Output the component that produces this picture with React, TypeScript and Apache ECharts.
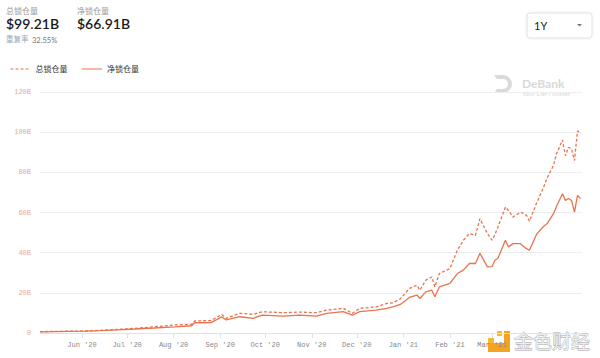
import React, { useEffect, useRef } from "react";
import * as echarts from "echarts";

const dates = [
  "2020-05-04", "2020-05-14", "2020-05-24", "2020-06-03", "2020-06-13", "2020-06-25",
  "2020-07-06", "2020-07-19", "2020-08-02", "2020-08-13", "2020-08-15", "2020-08-26",
  "2020-09-02", "2020-09-05", "2020-09-14", "2020-09-23", "2020-09-29", "2020-10-13",
  "2020-10-24", "2020-11-04", "2020-11-11", "2020-11-22", "2020-11-28", "2020-12-03",
  "2020-12-14", "2020-12-21", "2020-12-25", "2020-12-30", "2021-01-05", "2021-01-10",
  "2021-01-12", "2021-01-16", "2021-01-20", "2021-01-22", "2021-01-25", "2021-02-01",
  "2021-02-06", "2021-02-10", "2021-02-14", "2021-02-18", "2021-02-21", "2021-02-26",
  "2021-03-01", "2021-03-03", "2021-03-05", "2021-03-10", "2021-03-12", "2021-03-15",
  "2021-03-20", "2021-03-24", "2021-03-26", "2021-03-31", "2021-04-04", "2021-04-07",
  "2021-04-11", "2021-04-13", "2021-04-17", "2021-04-19", "2021-04-21", "2021-04-23",
  "2021-04-25", "2021-04-27", "2021-04-29",
];

const totalLocked = [
  0.7, 0.8, 0.9, 1.0, 1.3, 1.8,
  2.3, 3.1, 4.0, 4.3, 6.0, 6.2,
  9.2, 7.3, 9.8, 9.3, 10.6, 10.1,
  10.4, 10.1, 11.4, 12.3, 9.8, 12.3,
  13.0, 14.7, 15.0, 17.0, 22.2, 23.8,
  21.3, 26.3, 27.9, 23.0, 29.6, 32.1,
  41.2, 46.2, 49.5, 48.6, 56.9, 49.5,
  46.2, 49.0, 52.8, 62.7, 61.0, 57.7,
  60.2, 58.6, 55.7, 65.2, 71.8, 77.6,
  83.4, 89.2, 96.1, 88.3, 92.5, 91.7,
  85.9, 100.7, 99.21,
];

const netLocked = [
  0.6, 0.7, 0.8, 0.9, 1.2, 1.6,
  2.0, 2.5, 3.1, 3.6, 5.1, 5.2,
  8.0, 6.5, 8.1, 7.3, 8.9, 8.4,
  8.9, 8.4, 9.8, 10.6, 8.9, 10.6,
  11.4, 12.3, 13.0, 14.2, 17.7, 18.9,
  17.2, 20.5, 21.3, 18.0, 23.0, 24.7,
  29.6, 31.3, 34.6, 34.6, 39.7, 32.9,
  33.0, 36.2, 37.2, 46.2, 42.8, 44.5,
  44.5, 42.0, 41.2, 49.5, 52.8, 54.7,
  59.4, 63.0, 69.3, 66.0, 67.0, 66.0,
  60.2, 68.5, 66.91,
];

const yTicks = [0, 20, 40, 60, 80, 100, 120];
const seriesNames = ["总锁仓量", "净锁仓量"];
const monthNames = ["Jan", "Feb", "Mar", "Apr", "May", "Jun", "Jul", "Aug", "Sep", "Oct", "Nov", "Dec"];
const hiddenMonthLabels = ["Apr '21"]; // covered by the watermark in the reference

const DAY = 86400000;

export default function App() {
  const ref = useRef<HTMLDivElement>(null);

  useEffect(() => {
    if (!ref.current) return;
    echarts.graphic.registerShape(
      "debankLogo",
      echarts.graphic.extendPath(
        "M0 0 H9 A9 9 0 0 1 9 18 H0 L3 14 H9 A5 5 0 0 0 9 4 H3 Z",
        {}
      )
    );
    const chart = echarts.init(ref.current, null, { renderer: "svg" });
    const color = "#e8734f";
    const option: any = {
      animation: false,
      backgroundColor: "#ffffff",
      grid: { left: 40, right: 18, top: 92, bottom: 25 },
      legend: {
        left: 5,
        top: 60,
        itemWidth: 20,
        itemHeight: 8,
        itemGap: 14,
        itemStyle: { opacity: 0 },
        lineStyle: { width: 1 },
        textStyle: { fontSize: 8, color: "#333", fontFamily: "Noto Sans CJK SC" },
        data: seriesNames,
      },
      xAxis: {
        type: "time",
        min: new Date("2020-05-04").getTime(),
        max: new Date("2021-04-30").getTime(),
        minInterval: 28 * DAY,
        maxInterval: 31 * DAY,
        axisLine: { lineStyle: { color: "#dde3ea" } },
        axisTick: { show: true, length: 5, lineStyle: { color: "#dde3ea" } },
        splitLine: { show: false },
        axisLabel: {
          fontSize: 7,
          color: "#888",
          fontFamily: "Liberation Mono",
          margin: 8,
          formatter: (v: number) => {
            const d = new Date(v);
            const s = monthNames[d.getUTCMonth()] + " '" + String(d.getUTCFullYear()).slice(2);
            return hiddenMonthLabels.indexOf(s) >= 0 ? "" : s;
          },
        },
      },
      yAxis: {
        type: "value",
        min: yTicks[0],
        max: yTicks[yTicks.length - 1],
        interval: 20,
        axisLine: { show: false },
        axisTick: { show: false },
        splitLine: { lineStyle: { color: "#eeeeee" } },
        axisLabel: {
          fontSize: 7,
          color: "#e9a797",
          fontFamily: "Liberation Mono",
          margin: 9,
          formatter: (v: number) => (v === 0 ? "0" : v + "B"),
        },
      },
      series: [
        {
          name: seriesNames[0],
          type: "line",
          showSymbol: false,
          symbol: "none",
          data: dates.map((d, i) => [d, totalLocked[i]]),
          lineStyle: { color, width: 1.3, type: [3, 2] },
          itemStyle: { color },
        },
        {
          name: seriesNames[1],
          type: "line",
          showSymbol: false,
          symbol: "none",
          data: dates.map((d, i) => [d, netLocked[i]]),
          lineStyle: { color, width: 1.3 },
          itemStyle: { color },
        },
      ],
      graphic: [
        { type: "text", left: 6, top: 6, style: { text: "总锁仓量", fontSize: 8, fill: "#9a9a9a", fontFamily: "Noto Sans CJK SC" } },
        { type: "text", left: 6, top: 16, style: { text: "$99.21B", fontSize: 14, fill: "#1b1b1b", fontFamily: "Lato", fontWeight: 600 } },
        { type: "text", left: 77, top: 6, style: { text: "净锁仓量", fontSize: 8, fill: "#9a9a9a", fontFamily: "Noto Sans CJK SC" } },
        { type: "text", left: 77, top: 16, style: { text: "$66.91B", fontSize: 14, fill: "#1b1b1b", fontFamily: "Lato", fontWeight: 600 } },
        { type: "text", left: 6, top: 35, style: { text: "重复率", fontSize: 7.5, fill: "#9aa3b5", fontFamily: "Noto Sans CJK SC" } },
        { type: "text", left: 32, top: 36, style: { text: "32.55%", fontSize: 7.5, fill: "#777", fontFamily: "Lato" } },
        {
          type: "rect",
          shape: { x: 527, y: 13, width: 65, height: 25, r: 3 },
          style: { fill: "#fff", stroke: "#e2e2e2", lineWidth: 1, shadowBlur: 3, shadowColor: "rgba(0,0,0,0.08)" },
        },
        { type: "text", x: 534, y: 25.5, style: { text: "1Y", fontSize: 11, fill: "#222", fontFamily: "Lato", verticalAlign: "middle" } },
        { type: "polygon", shape: { points: [[577, 24], [582, 24], [579.5, 26.5]] }, style: { fill: "#777" } },
        { type: "debankLogo", x: 494, y: 75, style: { fill: "#dadada" } },
        { type: "text", x: 522, y: 77, style: { text: "DeBank", fontSize: 12, fontWeight: "bold", fill: "#d9d9d9", fontFamily: "Lato" } },
        { type: "text", x: 522, y: 90, style: { text: "Your DeFi Wallet", fontSize: 6.5, fill: "#d9d9d9", fontFamily: "Lato" } },
        { type: "rect", shape: { x: 512, y: 329, width: 84, height: 26 }, style: { fill: "rgba(255,255,255,0.9)" } },
        { type: "rect", shape: { x: 488, y: 343, width: 22, height: 9 }, style: { fill: "#f4a41f" } },
        { type: "rect", shape: { x: 504, y: 331, width: 6, height: 21 }, style: { fill: "#f4a41f" } },
        { type: "rect", shape: { x: 497, y: 331, width: 5, height: 5 }, style: { fill: "#f7b733" } },
        { type: "rect", shape: { x: 488, y: 338, width: 6, height: 5 }, style: { fill: "#f7b733" } },
        {
          type: "text",
          x: 514,
          y: 331,
          style: { text: "金色财经", fontSize: 19, fill: "#eeeeee", stroke: "#a8a8a8", lineWidth: 0.8, fontFamily: "Noto Sans CJK SC" },
        },
      ],
    };
    chart.setOption(option);
    return () => chart.dispose();
  }, []);

  return (
    <div
      ref={ref}
      style={{ position: "fixed", left: 0, top: 0, width: 600, height: 358, background: "#fff" }}
    />
  );
}
